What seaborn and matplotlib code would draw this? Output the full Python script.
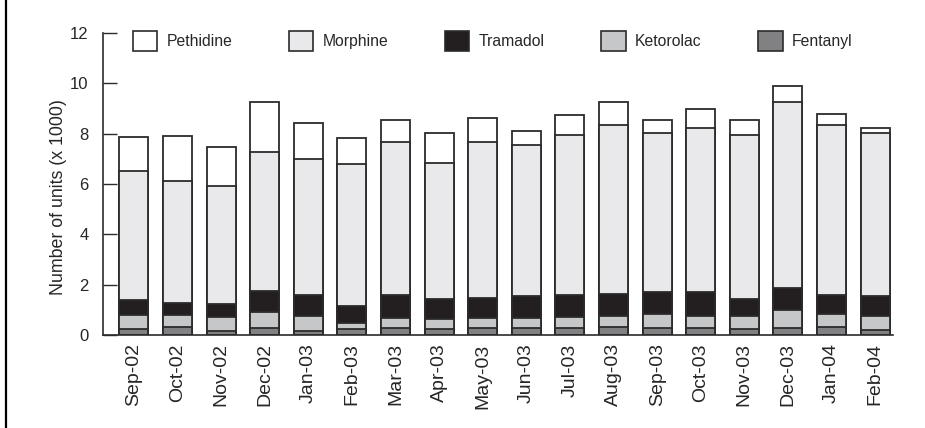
#Stacked monthly bars of opioid units per drug, drawn as overlaid cumulative seaborn barplots
import matplotlib
matplotlib.use("Agg")
import matplotlib.pyplot as plt
from matplotlib.patches import Patch
from matplotlib.lines import Line2D
import numpy as np
import seaborn as sns

months = ["Sep-02", "Oct-02", "Nov-02", "Dec-02", "Jan-03", "Feb-03", "Mar-03", "Apr-03", "May-03",
          "Jun-03", "Jul-03", "Aug-03", "Sep-03", "Oct-03", "Nov-03", "Dec-03", "Jan-04", "Feb-04"]

# units (x 1000) per month
fentanyl = [0.23, 0.30, 0.17, 0.27, 0.17, 0.23, 0.27, 0.23, 0.27, 0.27, 0.27, 0.33, 0.27, 0.27, 0.23, 0.27, 0.33, 0.21]
ketorolac = [0.57, 0.51, 0.53, 0.65, 0.60, 0.26, 0.39, 0.41, 0.42, 0.42, 0.43, 0.41, 0.57, 0.47, 0.51, 0.71, 0.52, 0.55]
tramadol = [0.59, 0.48, 0.52, 0.82, 0.81, 0.68, 0.92, 0.79, 0.77, 0.84, 0.90, 0.90, 0.87, 0.97, 0.71, 0.88, 0.75, 0.80]
morphine = [5.13, 4.82, 4.71, 5.54, 5.42, 5.63, 6.10, 5.40, 6.19, 6.03, 6.36, 6.70, 6.30, 6.50, 6.48, 7.41, 6.76, 6.45]
pethidine = [1.34, 1.81, 1.54, 1.96, 1.42, 1.02, 0.85, 1.18, 0.97, 0.56, 0.77, 0.92, 0.52, 0.77, 0.62, 0.62, 0.42, 0.23]

drugs = ["Pethidine", "Morphine", "Tramadol", "Ketorolac", "Fentanyl"]
colours = ["#ffffff", "#e9e9eb", "#231f20", "#c6c7c9", "#818183"]
edge = "#2b2b2b"

sns.set_style("ticks")
plt.rcParams["font.family"] = ["Liberation Sans", "DejaVu Sans"]

fig = plt.figure(figsize=(9.25, 4.28), dpi=100)
ax = fig.add_axes([103/925, 1 - 335/428, 790/925, 302/428])

# bottom-up series, stacked by cumulative sums and drawn from the tallest down
series = [fentanyl, ketorolac, tramadol, morphine, pethidine]
cum = np.cumsum(np.array(series), axis=0)
for i in range(len(series) - 1, -1, -1):
    sns.barplot(x=months, y=cum[i], order=months, color=colours[len(series) - 1 - i],
                saturation=1, width=0.665, edgecolor=edge, linewidth=1.3, ax=ax)

ax.set_xlim(-0.71, 17.41)
ax.set_ylim(0, 12)
ax.set_yticks([0, 2, 4, 6, 8, 10, 12])
ax.set_ylabel("Number of units (x 1000)", fontsize=12.8)
ax.yaxis.set_label_coords(-0.046, 0.457)
ax.set_xlabel("")
ax.tick_params(axis="y", direction="in", length=10, width=1, color=edge, labelsize=12, pad=10.5)
ax.tick_params(axis="x", length=0, labelsize=14, pad=6, labelrotation=90)
sns.despine(ax=ax)
for s in ["left", "bottom"]:
    ax.spines[s].set_color(edge)
    ax.spines[s].set_linewidth(1.2)

handles = [Patch(facecolor=c, edgecolor=edge, linewidth=1.2) for c in colours]
ax.legend(handles, drugs, loc="upper left", ncol=5, frameon=False, fontsize=11.3,
          bbox_to_anchor=(133/925, 1 - 31/428), bbox_transform=fig.transFigure,
          borderaxespad=0, borderpad=0, handlelength=1.55, handleheight=1.55,
          handletextpad=0.6, columnspacing=3.6)

# the page border on the left of the cropped figure
fig.add_artist(Line2D([6/925, 6/925], [0, 1], transform=fig.transFigure, color="black", lw=1.6))

fig.savefig("out.png", dpi=100)
